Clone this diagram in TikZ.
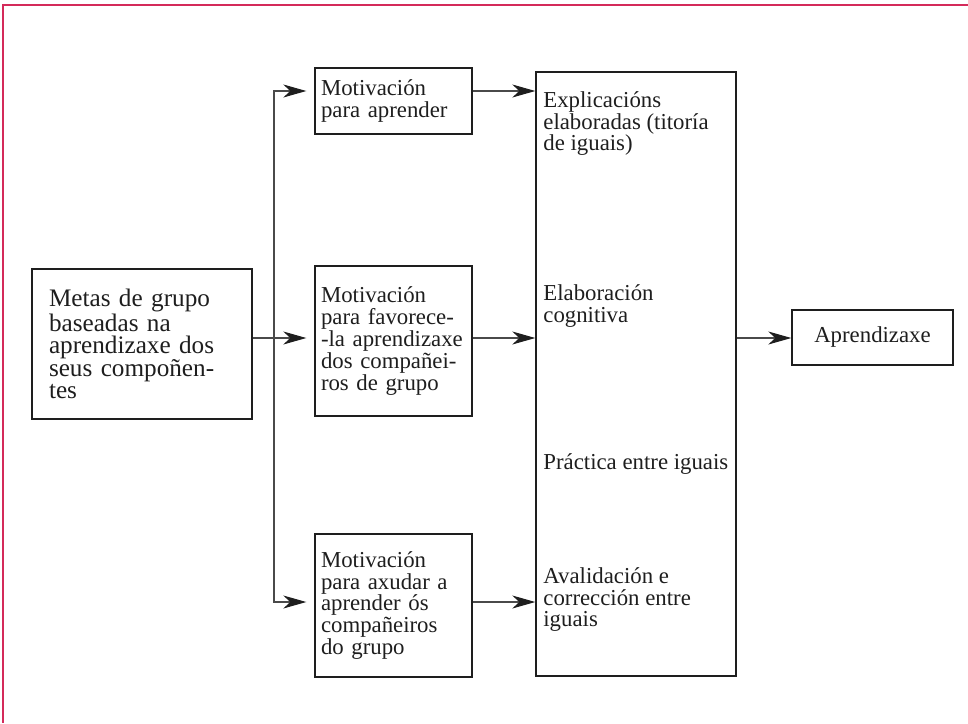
\documentclass[tikz,border=0pt]{standalone}
\usepackage{fontspec}
\setmainfont{Liberation Serif}
\usepackage{xcolor}
\usepackage{tikz}
\usetikzlibrary{arrows.meta}
\definecolor{frame}{HTML}{D42A5A}
\definecolor{ink}{HTML}{1E1E1E}
\definecolor{wire}{HTML}{4A4A4A}
\tikzset{
  box/.style={draw=ink, line width=0.7pt, inner sep=0pt, text=ink, align=left, font=\fontsize{11.4}{10.9}\selectfont},
  lab/.style={inner sep=0pt, text=ink, align=left, anchor=north west, font=\fontsize{11.4}{10.9}\selectfont},
  wire/.style={draw=wire, line width=0.55pt},
  arr/.style={wire, -{Stealth[length=11.5pt,width=6.5pt,inset=3.5pt,color=ink]}},
}

\begin{document}
\begin{tikzpicture}[x=0.5pt,y=-0.5pt]
  \useasboundingbox (0,0) rectangle (968,723);
  \draw[frame, line width=1pt] (968,4.5) -- (2.5,4.5) -- (2.5,723);
  \node[box, minimum width=110pt, minimum height=75pt, text width=93pt, font=\fontsize{12.6}{11.2}\selectfont] (goals) at (142,344)
    {Metas de grupo\\baseadas na\\aprendizaxe dos\\seus compoñen-\\tes};
  \node[box, minimum width=78.5pt, minimum height=33pt, text width=72.5pt] (mot1) at (393.5,101)
    {Motivación\\para aprender};
  \node[box, minimum width=78.5pt, minimum height=75pt, text width=72.5pt] (mot2) at (393.5,341)
    {Motivación\\para favorece-\\-la aprendizaxe\\dos compañei-\\ros de grupo};
  \node[box, minimum width=78.5pt, minimum height=71.5pt, text width=72.5pt] (mot3) at (393.5,605.5)
    {Motivación\\para axudar a\\aprender ós\\compañeiros\\do grupo};
  \node[box, minimum width=100pt, minimum height=302pt] (mech) at (636,374) {};
  \node[lab] (expl) at (543,91) {Explicacións\\elaboradas (titoría\\de iguais)};
  \node[lab] (elab) at (543,284) {Elaboración\\cognitiva};
  \node[lab] (prac) at (543,453) {Práctica entre iguais};
  \node[lab] (aval) at (543,567) {Avalidación e\\corrección entre\\iguais};
  \node[box, minimum width=80.5pt, minimum height=27.5pt, align=center] (apr) at (872.5,337.5) {Aprendizaxe};
  \coordinate (jn) at (274,338);
  \draw[arr, shorten >=4pt] ([yshift=3pt]goals.east) -- ([yshift=3pt]goals.east -| mot2.west);
  \draw[arr, shorten >=4pt] (jn) |- ([yshift=5pt]mot1.west);
  \draw[arr, shorten >=4pt] (jn) |- ([yshift=1.75pt]mot3.west);
  \draw[arr] ([yshift=5pt]mot1.east) -- ([yshift=5pt]mot1.east -| mech.west);
  \draw[arr] ([yshift=1.5pt]mot2.east) -- ([yshift=1.5pt]mot2.east -| mech.west);
  \draw[arr] ([yshift=1.75pt]mot3.east) -- ([yshift=1.75pt]mot3.east -| mech.west);
  \draw[arr] ([yshift=18pt]mech.east) -- ([yshift=18pt]mech.east -| apr.west);
\end{tikzpicture}
\end{document}
